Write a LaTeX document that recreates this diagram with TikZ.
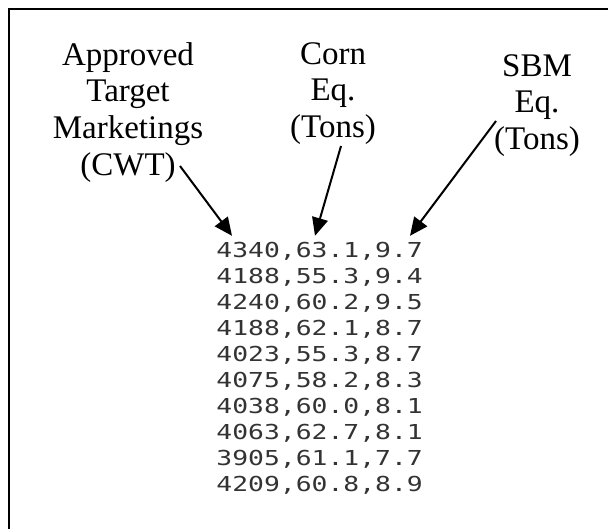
\documentclass[tikz,border=0pt]{standalone}
\usepackage{fontspec}
\setmainfont{Liberation Serif}
\newfontfamily\datafont[FakeStretch=1.28]{DejaVu Sans Mono}
\usetikzlibrary{arrows.meta,positioning}

\begin{document}
\begin{tikzpicture}[
  x=0.5pt, y=-0.5pt,
  hdr/.style={align=center, anchor=north, inner sep=0pt, font=\fontsize{16.5}{18.3}\selectfont},
  row/.style={anchor=base west, inner sep=0pt, font=\datafont\fontsize{10.3}{13}\selectfont, text=black!80},
  arr/.style={-{Triangle[length=9pt,width=8pt]}, line width=1pt},
]
\useasboundingbox (0,0) rectangle (608,529);

% --- frame, runs off at right and bottom ---
\draw[line width=1.1pt] (9,529) -- (9,9) -- (608,9);

% --- column headings ---
\node[hdr] (mkt) at (128,42) {Approved\\Target\\Marketings\\(CWT)};
\node[hdr] (corn) at (333,42) {Corn\\Eq.\\(Tons)};
\node[hdr] (sbm) at (537,54) {SBM\\Eq.\\(Tons)};

% --- data rows ---
\foreach \v [count=\i] in {{4340,63.1,9.7},{4188,55.3,9.4},{4240,60.2,9.5},{4188,62.1,8.7},{4023,55.3,8.7},{4075,58.2,8.3},{4038,60.0,8.1},{4063,62.7,8.1},{3905,61.1,7.7},{4209,60.8,8.9}}
  \node[row] (r\i) at (216,{257.5+26*(\i-1)}) {\v};

% --- arrows ---
\coordinate (sA) at (180,166);
\coordinate (sB) at (341,146);
\coordinate (sC) at (496,121);
\coordinate (tA) at ([xshift=8pt,yshift=3pt]r1.north west);
\coordinate (tB) at ([xshift=49.5pt,yshift=3pt]r1.north west);
\coordinate (tC) at ([xshift=97pt,yshift=3pt]r1.north west);

\draw[arr] (sA) -- (tA);
\draw[arr] (sB) -- (tB);
\draw[arr] (sC) -- (tC);

\end{tikzpicture}
\end{document}
